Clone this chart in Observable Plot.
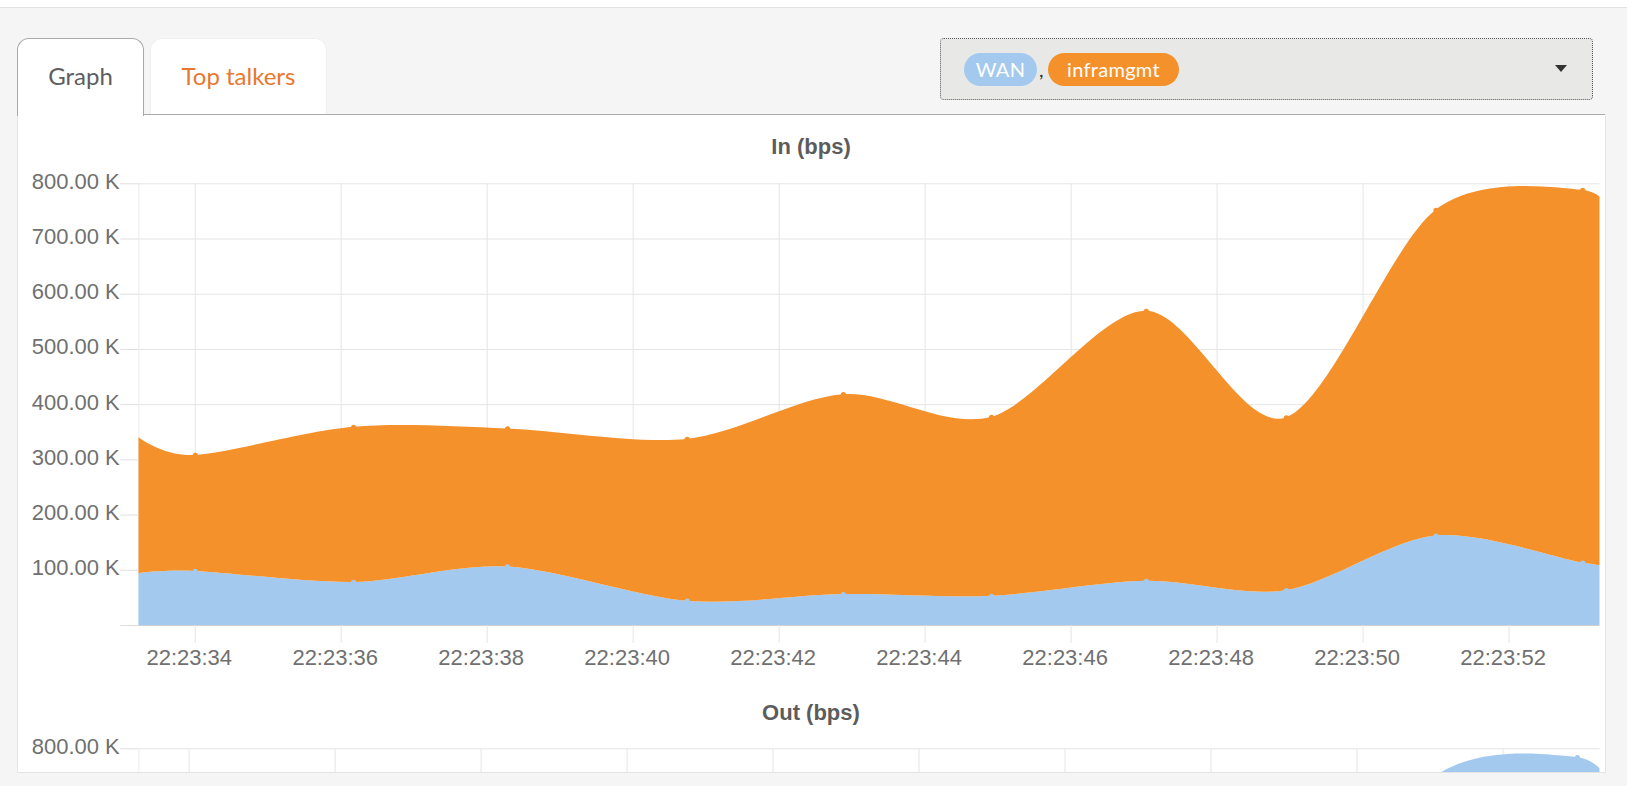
<!DOCTYPE html>
<html>
<head>
<meta charset="utf-8">
<script src="https://cdn.jsdelivr.net/npm/d3@7"></script>
<script src="https://cdn.jsdelivr.net/npm/@observablehq/plot@0.6"></script>
<style>
html, body { margin: 0; padding: 0; }
body { width: 1627px; height: 786px; overflow: hidden; background: #f4f5f4; position: relative; font-family: Lato, "Open Sans", sans-serif; }
.abs { position: absolute; box-sizing: border-box; }
.topstrip { left: 0; top: 0; width: 1627px; height: 8px; background: #fff; border-bottom: 1px solid #e2e2e2; }
.panel { left: 17px; top: 115px; width: 1588px; height: 657px; background: #fff; overflow: hidden; }
.line { background: #e4e4e4; }
.tab { border-radius: 12px 12px 0 0; background: #fff; text-align: center; font-size: 24px; line-height: 24px; }
.tab span { position: absolute; left: 0; right: 0; top: 25px; }
.drop { left: 940px; top: 38px; width: 653px; height: 62px; background: #e8e9e7; border: 1px dotted #5a5a5a; border-radius: 4px; }
.pill { top: 53px; height: 33px; border-radius: 17px; color: #fff; font-size: 20px; line-height: 33px; text-align: center; letter-spacing: 0.3px; }
.ttl { position: absolute; left: 0; width: 1588px; text-align: center; font: bold 22px/22px "Liberation Sans", Arial, sans-serif; color: #5c5c5c; }
.chart { position: absolute; left: 0; }
</style>
</head>
<body>
<div class="abs topstrip"></div>

<div class="abs panel" id="panel">
  <div class="ttl" id="inTitle" style="top:21px"></div>
  <div class="chart" id="inChart" style="top:45px"></div>
  <div class="ttl" id="outTitle" style="top:587px"></div>
  <div class="chart" id="outChart" style="top:610px"></div>
</div>
<!-- panel borders -->
<div class="abs" style="left:17px;top:114px;width:1588px;height:1px;background:#a9a9a9"></div>
<div class="abs line" style="left:17px;top:115px;width:1px;height:657px"></div>
<div class="abs line" style="left:1605px;top:115px;width:1px;height:657px"></div>
<div class="abs line" style="left:17px;top:772px;width:1589px;height:1px"></div>

<!-- tabs -->
<div class="abs tab" style="left:17px;top:38px;width:127px;height:78px;border:1px solid #a9a9a9;border-bottom:none;color:#5e5e5e"><span id="tab1"></span></div>
<div class="abs tab" style="left:150px;top:38px;width:177px;height:76px;border:1px solid #efefef;border-bottom:none;color:#e8782f"><span id="tab2"></span></div>

<!-- selector -->
<div class="abs drop"></div>
<div class="abs pill" id="pill0" style="left:964px;width:73px"></div>
<div class="abs" id="comma" style="left:1039px;top:53px;height:33px;line-height:33px;font-size:20px;color:#333">,</div>
<div class="abs pill" id="pill1" style="left:1048px;width:131px"></div>
<div class="abs" style="left:1555px;top:65px;width:0;height:0;border-left:6px solid transparent;border-right:6px solid transparent;border-top:7px solid #333"></div>

<script>
// ---- data ----
const tabLabels = ["Graph", "Top talkers"];
const seriesNames = ["WAN", "inframgmt"];
const seriesColors = ["#a3c9ee", "#f4912b"];
const chartTitles = ["In (bps)", "Out (bps)"];

// visible time windows, seconds after 22:23:00
const inWindow  = [33.227, 53.246];
const outWindow = [33.31, 53.33];

// samples, seconds after 22:23:00 (the first sits on the window's left edge, the last is just past its right edge)
const inTimes  = [33.227, 34.00, 36.17, 38.28, 40.74, 42.88, 44.91, 47.03, 48.95, 51.00, 53.01, 53.5];
const inWAN    = [93.6, 98, 78, 106, 44, 56, 53, 80, 63, 162, 113, 106];       // K bps
const inInfra  = [247, 210, 281, 250, 293, 362, 324, 489, 313, 590, 675, 619]; // K bps

const outTimes = [33.31, 34.00, 36.17, 38.28, 40.74, 42.88, 44.91, 47.03, 48.95, 51.00, 53.02, 53.6];
const outWAN   = [245, 210, 278, 250, 293, 359, 321, 485, 276, 582, 672, 604]; // K bps
const outInfra = [95, 99, 80, 105, 45, 57, 55, 81, 64, 160, 112, 106];        // K bps

const yTicks = [0, 100, 200, 300, 400, 500, 600, 700, 800];   // K bps
const xTickSeconds = [34, 36, 38, 40, 42, 44, 46, 48, 50, 52];

// ---- helpers ----
const base = Date.UTC(2024, 0, 1, 22, 23, 0);
const toDate = s => new Date(base + s * 1000);
const fmtTime = d3.utcFormat("%H:%M:%S");
const fmtY = d => d === 0 ? "" : d.toFixed(2) + " K";

document.getElementById("tab1").textContent = tabLabels[0];
document.getElementById("tab2").textContent = tabLabels[1];
document.getElementById("pill0").textContent = seriesNames[0];
document.getElementById("pill0").style.background = seriesColors[0];
document.getElementById("pill1").textContent = seriesNames[1];
document.getElementById("pill1").style.background = seriesColors[1];
document.getElementById("inTitle").textContent = chartTitles[0];
document.getElementById("outTitle").textContent = chartTitles[1];

function buildRows(times, wan, infra) {
  const rows = [];
  times.forEach((t, i) => {
    rows.push({time: toDate(t), sec: t, value: wan[i], series: seriesNames[0]});
    rows.push({time: toDate(t), sec: t, value: infra[i], series: seriesNames[1]});
  });
  return rows;
}

// full plot height (px) that spans 0 … 800 K
const FULL_PLOT_H = 441.7;

function makeChart({times, wan, infra, order, window, height, marginBottom, showX}) {
  const rows = buildRows(times, wan, infra);
  const pts = rows.filter(d => d.sec > window[0] && d.sec < window[1]);
  const xDomain = window.map(toDate);
  const xTicks = xTickSeconds.map(toDate);
  const marginTop = 23.3;
  const plotH = height - marginTop - marginBottom;
  const yMax = 800;
  const yMin = Math.max(0, yMax - plotH * yMax / FULL_PLOT_H);
  const visTicks = yTicks.filter(d => d >= yMin - 1e-6);
  const grid = "#e5e5e5";
  const marks = [
    Plot.ruleY(visTicks.filter(d => d > 0), {stroke: grid}),
    Plot.ruleX(xTicks, {stroke: grid}),
    Plot.ruleX([xDomain[0]], {stroke: "#ececec"}),
    Plot.areaY(rows, Plot.stackY({x: "time", y: "value", z: "series", fill: "series", order, curve: "cardinal", tension: 0.1, clip: true})),
    Plot.dot(pts, Plot.stackY2({x: "time", y: "value", z: "series", fill: "series", order, r: 2.6, clip: true})),
    Plot.axisY(visTicks, {tickSize: 18, tickFormat: () => "", label: null, stroke: "#dedede", strokeOpacity: 1}),
    Plot.text(visTicks, {y: d => d, text: fmtY, frameAnchor: "left", textAnchor: "end", dx: -19, dy: -2, fill: "#707070"})
  ];
  if (showX) {
    marks.push(
      Plot.ruleY([0], {stroke: "#cfcfcf"}),
      Plot.axisX(xTicks, {tickSize: 18, tickFormat: () => "", label: null, stroke: grid, strokeOpacity: 1}),
      Plot.text(xTicks, {x: d => d, text: fmtTime, frameAnchor: "bottom", lineAnchor: "top", dy: 24, dx: -6, fill: "#707070"})
    );
  }
  return Plot.plot({
    width: 1588,
    height,
    marginLeft: 121.3,
    marginRight: 5.5,
    marginTop,
    marginBottom,
    style: {fontFamily: '"Liberation Sans", Arial, sans-serif', fontSize: "22px", color: "#707070", background: "transparent", overflow: "visible"},
    x: {type: "utc", domain: xDomain, axis: null},
    y: {domain: [yMin, yMax], axis: null},
    color: {domain: seriesNames, range: seriesColors},
    marks
  });
}

document.getElementById("inChart").append(makeChart({
  times: inTimes, wan: inWAN, infra: inInfra, order: seriesNames,
  window: inWindow, height: 515, marginBottom: 50, showX: true
}));
// only the top strip of the "Out" chart is visible in the panel
document.getElementById("outChart").append(makeChart({
  times: outTimes, wan: outWAN, infra: outInfra, order: [seriesNames[1], seriesNames[0]],
  window: outWindow, height: 47, marginBottom: 0, showX: false
}));
</script>
</body>
</html>
